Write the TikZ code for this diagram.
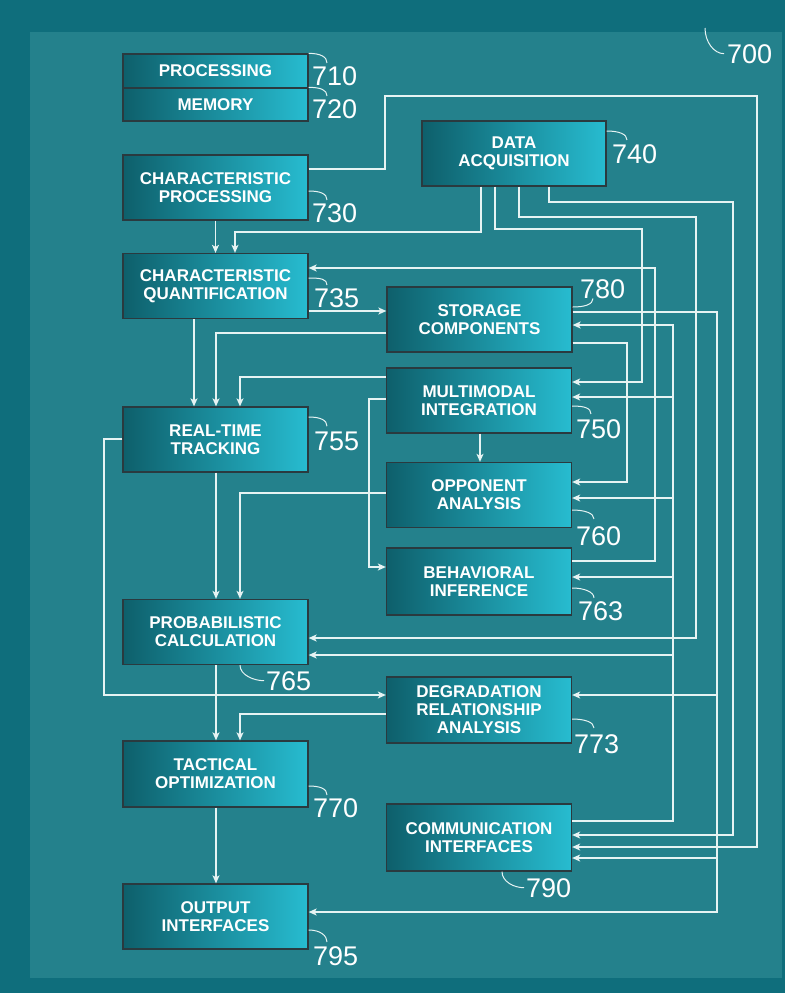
\documentclass[tikz,border=0pt]{standalone}
\usepackage{fontspec}
\setmainfont{Liberation Sans}
\usetikzlibrary{arrows.meta}
\definecolor{outerbg}{HTML}{0F6E7C}
\definecolor{panelbg}{HTML}{24818C}
\definecolor{boxdark}{HTML}{0E5F6B}
\definecolor{boxlight}{HTML}{27BCD0}
\definecolor{boxedge}{HTML}{2A3A3F}
\definecolor{wirecol}{HTML}{E6F3F3}
\tikzset{>/.tip={Stealth[length=8pt,width=7pt,inset=2pt]},
  blk/.style={draw=boxedge, line width=1.3pt, left color=boxdark, right color=boxlight,
    minimum width=185pt, minimum height=65pt, inner sep=0pt, align=center, text=white,
    font=\bfseries\fontsize{17}{18}\selectfont},
  num/.style={anchor=base west, inner sep=0pt, text=white, font=\fontsize{27}{27}\selectfont},
  flow/.style={draw=wirecol, line width=1.3pt},
  lead/.style={draw=wirecol, line width=1pt}}

\begin{document}
\begin{tikzpicture}[x=1pt,y=-1pt]
\fill[outerbg] (0,0) rectangle (785,993);
\fill[panelbg] (30,32) rectangle (782,978);
\useasboundingbox (0,0) rectangle (785,993);

% blocks
\node[blk, minimum height=34pt] (proc) at (215.5,71) {PROCESSING};
\node[blk, minimum height=33pt] (mem) at (215.5,104.5) {MEMORY};
\node[blk] (cproc) at (215.5,187.5) {CHARACTERISTIC\\PROCESSING};
\node[blk, minimum width=184pt] (dacq) at (514,153.5) {DATA\\ACQUISITION};
\node[blk] (cquant) at (215.5,286) {CHARACTERISTIC\\QUANTIFICATION};
\node[blk] (stor) at (479.5,319.5) {STORAGE\\COMPONENTS};
\node[blk] (multi) at (479,400.5) {MULTIMODAL\\INTEGRATION};
\node[blk] (rtt) at (215.5,439.5) {REAL-TIME\\TRACKING};
\node[blk] (opp) at (479,495) {OPPONENT\\ANALYSIS};
\node[blk, minimum height=67pt] (beh) at (479,581.5) {BEHAVIORAL\\INFERENCE};
\node[blk] (prob) at (215.5,632) {PROBABILISTIC\\CALCULATION};
\node[blk, minimum height=66pt] (degr) at (479,710) {DEGRADATION\\RELATIONSHIP\\ANALYSIS};
\node[blk, minimum height=66pt] (tact) at (215.5,774) {TACTICAL\\OPTIMIZATION};
\node[blk, minimum height=67pt] (comm) at (479,837.5) {COMMUNICATION\\INTERFACES};
\node[blk] (outp) at (215.5,916.5) {OUTPUT\\INTERFACES};

% reference numerals
\node[num] (n700) at (727,63) {700};
\node[num] (n710) at (312,85) {710};
\node[num] (n720) at (312,118) {720};
\node[num] (n730) at (312,222) {730};
\node[num] (n740) at (612,163) {740};
\node[num] (n735) at (314,307) {735};
\node[num] (n780) at (580,298) {780};
\node[num] (n750) at (576,438) {750};
\node[num] (n755) at (314,450) {755};
\node[num] (n760) at (576,545) {760};
\node[num] (n763) at (578,620) {763};
\node[num] (n765) at (266,690) {765};
\node[num] (n773) at (574,753) {773};
\node[num] (n770) at (313,817) {770};
\node[num] (n790) at (526,897) {790};
\node[num] (n795) at (313,965) {795};

\coordinate (c700) at (705,28);
\draw[lead] (c700) .. controls +(0,14) and +(-10,0) .. ([xshift=-3pt]n700.west);
\draw[lead] (proc.north east) .. controls +(12,0) and +(0,-6) .. ([xshift=15pt,yshift=3pt]n710.north west);
\draw[lead] (mem.north east) .. controls +(12,0) and +(0,-6) .. ([xshift=15pt,yshift=3pt]n720.north west);
\draw[lead] (cproc.east |- 0,191) .. controls +(12,0) and +(0,-6) .. ([xshift=15pt,yshift=3pt]n730.north west);
\draw[lead] (dacq.east |- 0,131) .. controls +(12,0) and +(0,-6) .. ([xshift=15pt,yshift=4pt]n740.north west);
\draw[lead] (cquant.east |- 0,278) .. controls +(12,0) and +(0,-6) .. ([xshift=13pt,yshift=3pt]n735.north west);
\draw[lead] (stor.east |- 0,307) .. controls +(12,0) and +(0,6) .. ([xshift=13pt]n780.south west);
\draw[lead] (multi.east |- 0,406) .. controls +(12,0) and +(0,-6) .. ([xshift=15pt,yshift=5pt]n750.north west);
\draw[lead] (rtt.east |- 0,417) .. controls +(12,0) and +(0,-6) .. ([xshift=13pt,yshift=5pt]n755.north west);
\draw[lead] (opp.east |- 0,510) .. controls +(12,0) and +(0,-6) .. ([xshift=18pt,yshift=7pt]n760.north west);
\draw[lead] (beh.east |- 0,588) .. controls +(12,0) and +(0,-6) .. ([xshift=16pt,yshift=3pt]n763.north west);
\draw[lead] (prob.south -| 240,0) .. controls +(0,10) and +(-10,0) .. ([xshift=-2pt]n765.west);
\draw[lead] (degr.east |- 0,719) .. controls +(12,0) and +(0,-6) .. ([xshift=20pt,yshift=6pt]n773.north west);
\draw[lead] (tact.east |- 0,786) .. controls +(12,0) and +(0,-6) .. ([xshift=14pt,yshift=3pt]n770.north west);
\draw[lead] (comm.south -| 502,0) .. controls +(0,10) and +(-10,0) .. ([xshift=-2pt]n790.west);
\draw[lead] (outp.east |- 0,930) .. controls +(12,0) and +(0,-6) .. ([xshift=14pt,yshift=4pt]n795.north west);

% connectors
\coordinate (bus) at (673,0);
\coordinate (tap) at (717,0);
\draw[flow,->] (cproc.east |- 0,169) -- (385,169) |- (757,96) |- (comm.east |- 0,847);
\draw[flow,->] (cproc.south) -- (cquant.north);
\draw[flow,->] (dacq.south -| 481,0) |- (235,232) -- (cquant.north -| 235,0);
\draw[flow,->] (dacq.south -| 495,0) |- (642,229) |- (multi.east |- 0,382);
\draw[flow,->] (dacq.south -| 519,0) |- (696,217) |- (prob.east |- 0,638);
\draw[flow,->] (dacq.south -| 549,0) |- (733,202) |- (comm.east |- 0,835);
\draw[flow,->] (beh.east |- 0,561) -| (655,268) -- (cquant.east |- 0,268);
\draw[flow,->] (cquant.east |- 0,311) -- (stor.west |- 0,311);
\draw[flow,->] (cquant.south -| 194,0) -- (rtt.north -| 194,0);
\draw[flow,->] (stor.west |- 0,333) -| (rtt.north -| 216,0);
\draw[flow,->] (multi.west |- 0,377) -| (rtt.north -| 240,0);
\draw[flow,->] (multi.west |- 0,399) -- (369,399) |- (beh.west |- 0,567);
\draw[flow,->] (multi.south -| 480,0) -- (opp.north -| 480,0);
\draw[flow,->] (stor.east |- 0,343) -| (627,482) -- (opp.east |- 0,482);
\draw[flow,->] (stor.east |- 0,312) -| (tap |- 0,912) -- (outp.east |- 0,912);
\draw[flow,->] (tap |- 0,695) -- (degr.east |- 0,695);
\draw[flow,->] (tap |- 0,858) -- (comm.east |- 0,858);
\draw[flow,->] (comm.east |- 0,821) -| (bus |- 0,325) -- (stor.east |- 0,325);
\draw[flow,->] (bus |- 0,397) -- (multi.east |- 0,397);
\draw[flow,->] (bus |- 0,498) -- (opp.east |- 0,498);
\draw[flow,->] (bus |- 0,577) -- (beh.east |- 0,577);
\draw[flow,->] (bus |- 0,655) -- (prob.east |- 0,655);
\draw[flow,->] (opp.west |- 0,493) -| (prob.north -| 240,0);
\draw[flow,->] (rtt.south -| 216,0) -- (prob.north -| 216,0);
\draw[flow,->] (rtt.west |- 0,439) -- (104,439) |- (degr.west |- 0,695);
\draw[flow,->] (prob.south -| 216,0) -- (tact.north -| 216,0);
\draw[flow,->] (degr.west |- 0,714) -| (tact.north -| 240,0);
\draw[flow,->] (tact.south -| 216,0) -- (outp.north -| 216,0);
\end{tikzpicture}
\end{document}
